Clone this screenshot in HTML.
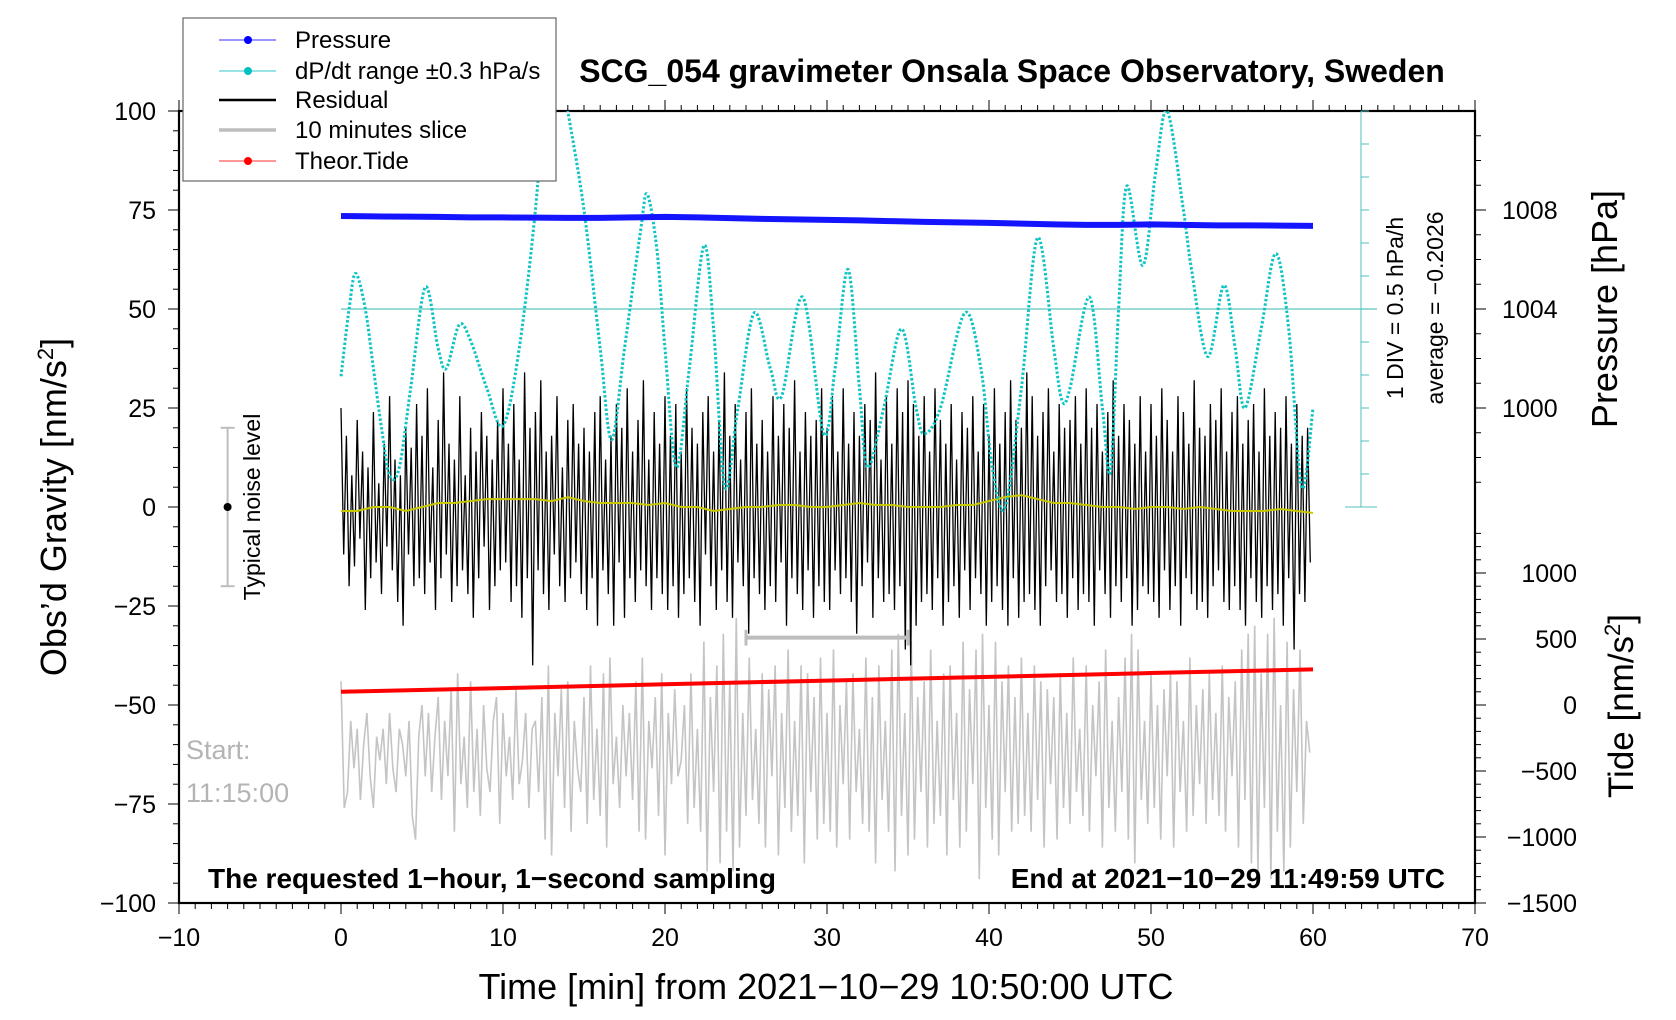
<!DOCTYPE html>
<html><head><meta charset="utf-8"><style>
html,body{margin:0;padding:0;background:#fff}
svg{display:block;font-family:"Liberation Sans",sans-serif}
</style></head><body>
<svg id="chart" width="1676" height="1020" viewBox="0 0 1676 1020" xmlns="http://www.w3.org/2000/svg">
<defs><clipPath id="plotclip"><rect x="179" y="111" width="1296" height="792"/></clipPath></defs>
<rect width="1676" height="1020" fill="#fff"/>
<g id="axes"></g>
<g id="marks" clip-path="url(#plotclip)"></g>
<g id="overlay"></g>
<text x="1012" y="82" text-anchor="middle" font-size="32" font-weight="bold">SCG_054 gravimeter Onsala Space Observatory, Sweden</text>
<text x="826" y="999" text-anchor="middle" font-size="36">Time [min] from 2021−10−29 10:50:00 UTC</text>
<text transform="translate(66,507) rotate(-90)" text-anchor="middle" font-size="36">Obs’d Gravity [nm/s<tspan font-size="22" dy="-13">2</tspan><tspan dy="13">]</tspan></text>
<text transform="translate(1617,309) rotate(-90)" text-anchor="middle" font-size="36">Pressure [hPa]</text>
<text transform="translate(1633,706) rotate(-90)" text-anchor="middle" font-size="35">Tide [nm/s<tspan font-size="22" dy="-13">2</tspan><tspan dy="13">]</tspan></text>
<text transform="translate(1403,308) rotate(-90)" text-anchor="middle" font-size="23">1 DIV = 0.5 hPa/h</text>
<text transform="translate(1443,308) rotate(-90)" text-anchor="middle" font-size="23">average = −0.2026</text>
<text transform="translate(260,507) rotate(-90)" text-anchor="middle" font-size="23">Typical noise level</text>
<text x="186" y="759" font-size="27" fill="#b4b4b4">Start:</text>
<text x="186" y="802" font-size="27" fill="#b4b4b4">11:15:00</text>
<text x="208" y="888" font-size="28" font-weight="bold">The requested 1−hour, 1−second sampling</text>
<text x="1445" y="888" text-anchor="end" font-size="28" font-weight="bold">End at 2021−10−29 11:49:59 UTC</text>
<g>
<rect x="183" y="18" width="373" height="163" fill="#fff" stroke="#666" stroke-width="1.2"/>
<g><line x1="219" y1="40" x2="276" y2="40" stroke="#3030ff" stroke-width="1"/><circle cx="248" cy="40" r="4" fill="#0000ff"/><text x="295" y="48" font-size="24">Pressure</text></g>
<g><line x1="219" y1="71" x2="276" y2="71" stroke="#30c8c8" stroke-width="1"/><circle cx="248" cy="71" r="4" fill="#00c0c0"/><text x="295" y="79" font-size="24">dP/dt range ±0.3 hPa/s</text></g>
<g><line x1="219" y1="100" x2="276" y2="100" stroke="#000" stroke-width="2.5"/><text x="295" y="108" font-size="24">Residual</text></g>
<g><line x1="219" y1="130" x2="276" y2="130" stroke="#bdbdbd" stroke-width="3.5"/><text x="295" y="138" font-size="24">10 minutes slice</text></g>
<g><line x1="219" y1="161" x2="276" y2="161" stroke="#ff3030" stroke-width="1"/><circle cx="248" cy="161" r="4" fill="#ff0000"/><text x="295" y="169" font-size="24">Theor.Tide</text></g>
</g>
</svg>
<script>
// ---- data ----
const residual = [25,-12,18,-20,8,-15,22,-8,14,-26,10,-18,24,-14,6,-22,16,-10,28,-16,12,-24,8,-30,20,-12,15,-20,26,-18,
18,-22,30,-14,10,-26,22,-18,34,-12,16,-24,12,-20,28,-16,8,-22,20,-28,14,-18,24,-10,18,-26,12,-20,22,-16,
30,-14,16,-24,26,-20,12,-28,34,-18,20,-40,24,-16,32,-22,14,-26,18,-12,28,-20,10,-24,22,-18,26,-14,16,-22,
20,-26,14,-18,24,-30,28,-16,12,-22,18,-30,26,-14,20,-28,30,-18,14,-24,22,-16,32,-20,12,-26,24,-18,16,-22,
28,-26,18,-20,26,-28,14,-22,30,-18,20,-24,16,-30,24,-12,28,-20,14,-26,22,-16,34,-24,18,-28,26,-14,12,-20,
24,-32,30,-18,16,-22,22,-26,14,-20,28,-24,18,-14,26,-30,20,-18,32,-22,14,-26,24,-16,18,-28,22,-20,30,-24,
20,-26,28,-16,14,-22,30,-18,16,-24,24,-32,18,-20,26,-14,22,-28,34,-18,12,-24,28,-22,16,-26,30,-20,24,-36,
32,-40,26,-30,18,-24,28,-22,14,-26,30,-18,22,-30,16,-24,26,-20,12,-28,24,-16,20,-26,28,-18,14,-22,26,-30,
18,-24,30,-20,16,-26,24,-30,32,-18,22,-28,20,-24,34,-22,28,-26,18,-30,24,-20,30,-16,14,-24,26,-22,20,-28,
22,-18,28,-26,16,-22,30,-24,20,-30,26,-16,14,-22,24,-28,32,-20,18,-24,26,-18,22,-30,16,-26,28,-20,14,-22,
26,-24,18,-28,30,-16,22,-26,14,-20,28,-30,24,-18,16,-22,32,-26,20,-24,18,-28,26,-20,22,-16,30,-24,14,-26,
24,-20,28,-26,16,-30,22,-18,26,-24,14,-28,30,-20,18,-26,24,-22,20,-30,28,-18,16,-36,26,-22,18,-24,20,-14];
const residualStepMin = 1/6;
const slice = [18,-14,-10,8,-4,6,-12,2,10,-6,-14,4,-2,6,-8,10,-4,-10,6,2,-6,8,-16,-22,4,12,-6,10,-10,4,
14,-12,8,-6,16,-20,20,-8,4,-14,18,-10,6,-16,12,-4,-10,8,14,-18,10,-6,4,-12,16,-8,-2,10,-14,6,
8,-10,14,-22,22,-26,10,-6,16,-14,18,-20,8,-4,-10,14,-18,22,-12,6,-16,20,-24,24,-8,4,-14,12,-6,10,
-12,18,-20,24,-22,8,-4,14,-16,20,-26,10,-8,16,-6,-2,12,-18,20,-14,6,-20,28,-30,14,-10,22,-28,30,-20,
18,-30,34,-24,10,-16,24,-12,6,-18,20,-24,16,-6,22,-26,10,-14,26,-20,8,-16,22,-28,20,-10,14,-22,24,-18,
10,-20,26,-24,12,-8,18,-22,20,-10,6,-18,24,-20,14,-28,22,-12,8,-20,26,-30,30,-16,10,-26,28,-22,14,-10,
18,-24,26,-18,8,-16,20,-26,22,-12,10,-24,28,-20,16,-8,26,-32,30,-14,12,-22,28,-26,18,-10,22,-20,14,-18,
24,-16,10,-20,22,-12,18,-24,16,-8,14,-22,20,-14,10,-18,24,-10,6,-16,22,-20,12,-6,18,-24,26,-14,8,-20,
14,-10,24,-22,30,-28,26,-12,8,-18,20,-14,12,-22,16,-6,20,-24,18,-10,8,-20,24,-16,12,-8,16,-18,20,-12,
10,-16,22,-20,14,-6,18,-24,26,-12,30,-28,32,-30,20,-14,30,-32,34,-20,12,-30,28,-24,16,-10,26,-18,8,0];
const sliceStepMin = 0.2;
const sliceOffset = -62;
const smooth = [-1,-1,0,0,-1,0,1,1,1.5,2,2,2,2,1.5,2.5,1.5,1,1,1,0.5,1,0,0,-1,-0.5,0,0,0.5,0.5,0,0,0.5,1,0.5,0.5,0,0,0,0.5,0.5,1.5,2.5,3,2,1,1,0.5,0,0,-0.5,0,0,-0.5,0,-0.5,-1,-1,-1,-0.5,-1,-1.5];
const pressureT = [0,2,4,6,8,10,12,14,16,18,20,22,24,26,28,30,32,34,36,38,40,42,44,46,48,50,52,54,56,58,60];
const pressureHPa = [1007.76,1007.74,1007.73,1007.72,1007.70,1007.70,1007.69,1007.68,1007.68,1007.70,1007.72,1007.70,1007.67,1007.64,1007.62,1007.60,1007.58,1007.55,1007.52,1007.50,1007.48,1007.45,1007.42,1007.40,1007.40,1007.42,1007.40,1007.38,1007.38,1007.37,1007.36];
const dpdtT = [0,0.5,0.9,1.5,2,2.5,3,3.6,4.3,5.2,6,6.5,7.3,8,9,10,11,12,12.5,13,13.5,14,15,16,16.7,17.5,18.5,18.9,19.5,20,20.7,21.5,22.4,23,23.7,24.5,25.5,26.5,27.2,28.5,29.8,30.5,31.3,32,32.5,33.5,34.6,35.5,36,37,38.5,39.5,40.2,41,42,43,44,44.5,45,46.2,47,47.5,48,48.5,49.5,50.3,51,52,52.5,53.5,54.5,55.2,55.8,56.8,57.7,58.5,59.3,60];
const dpdtV = [33,50,59,50,35,20,8,10,30,55.5,40,35,46,42,30,20.5,40,75,102,115,112,100,75,40,17,40,70,79,65,40,10,35,66,45,5,25,49,35,28,53,18.5,35,60,30,10,25,45,25,18.5,25,49,35,10,0,30,68,40,27,30,53,25,9,50,81,61,85,100,75,60,38,56,40,25,45,64,45,5,25];
const tideT = [0,10,20,30,40,50,60];
const tideNm = [100,128,157,185,213,242,270];
const xTicks = [-10,0,10,20,30,40,50,60,70];
const yTicks = [100,75,50,25,0,-25,-50,-75,-100];
const pTicks = [1008,1004,1000];
const tideTicks = [1000,500,0,-500,-1000,-1500];

// ---- scales ----
const X = t => 341 + t * 16.2;
const Y = g => 507 - g * 3.96;
const PtoG = p => 50 + (p - 1004) * 6.25;
const TtoG = n => -50 + n / 30;
const NS = 'http://www.w3.org/2000/svg';
function mk(tag, parent, attrs) {
  const e = document.createElementNS(NS, tag);
  for (const k in attrs) e.setAttribute(k, attrs[k]);
  parent.appendChild(e);
  return e;
}
const axes = document.getElementById('axes');
const marks = document.getElementById('marks');
const overlay = document.getElementById('overlay');

const frame = mk('rect', axes, {x: X(-10), y: Y(100), width: X(70) - X(-10), height: Y(-100) - Y(100), fill: 'none', stroke: '#000', 'stroke-width': 2.2});



for (let t = -10; t <= 70; t++) {
  const major = t % 10 === 0;
  const L = major ? 11 : 6;
  mk('line', axes, {x1: X(t), x2: X(t), y1: Y(-100), y2: Y(-100) + L, stroke: '#000', 'stroke-width': 1});
  mk('line', axes, {x1: X(t), x2: X(t), y1: Y(100), y2: Y(100) - L, stroke: '#000', 'stroke-width': 1});
}
xTicks.forEach(t => {
  const lb = mk('text', axes, {x: X(t), y: 946, 'text-anchor': 'middle', 'font-size': 25});
  lb.textContent = String(t).replace('-', '−');
  
  
});
for (let g = -100; g <= 100; g += 5) {
  const L = g % 25 === 0 ? 11 : 6;
  mk('line', axes, {x1: X(-10), x2: X(-10) - L, y1: Y(g), y2: Y(g), stroke: '#000', 'stroke-width': 1});
}
yTicks.forEach(g => {
  const lb = mk('text', axes, {x: 156, y: Y(g) + 9, 'text-anchor': 'end', 'font-size': 25});
  lb.textContent = String(g).replace('-', '−');
  
  
});
for (let p = 997; p <= 1011; p++) {
  const yy = Y(PtoG(p));
  if (yy < Y(100)) continue;
  const L = p % 4 === 0 ? 11 : 6;
  mk('line', axes, {x1: X(70), x2: X(70) + L, y1: yy, y2: yy, stroke: '#000', 'stroke-width': 1});
}
pTicks.forEach(p => {
  const lb = mk('text', axes, {x: 1502, y: Y(PtoG(p)) + 9, 'font-size': 25});
  lb.textContent = String(p);
  
  
});
for (let n = -1500; n <= 1300; n += 100) {
  const L = n % 500 === 0 ? 11 : 6;
  mk('line', axes, {x1: X(70), x2: X(70) + L, y1: Y(TtoG(n)), y2: Y(TtoG(n)), stroke: '#000', 'stroke-width': 1});
}
tideTicks.forEach(n => {
  const lb = mk('text', axes, {x: 1577, y: Y(TtoG(n)) + 9, 'text-anchor': 'end', 'font-size': 25});
  lb.textContent = String(n).replace('-', '−');
  
  
});

const dax = mk('line', overlay, {x1: 1361, x2: 1361, y1: Y(100), y2: Y(0), stroke: '#50c0c0', 'stroke-width': 1});


for (let i = 1; i <= 12; i++) {
  const yy = Y(0) - i * (Y(0) - Y(100)) / 12;
  mk('line', overlay, {x1: 1361, x2: 1369, y1: yy, y2: yy, stroke: '#50c0c0', 'stroke-width': 1});
}
mk('line', overlay, {x1: 1345, x2: 1377, y1: Y(0), y2: Y(0), stroke: '#50c0c0', 'stroke-width': 1});

const ref = mk('line', marks, {x1: X(0), x2: 1377, y1: Y(50), y2: Y(50), stroke: '#60c8c0', 'stroke-width': 1.3});



const sp = mk('polyline', marks, {fill: 'none', stroke: '#c4c4c4', 'stroke-width': 1.6,
  points: slice.map((v, i) => X(i * sliceStepMin) + ',' + Y(v + sliceOffset)).join(' ')});



const rp = mk('polyline', marks, {fill: 'none', stroke: '#000', 'stroke-width': 1.3,
  points: residual.map((v, i) => X(i * residualStepMin) + ',' + Y(v)).join(' ')});



const yp = mk('polyline', marks, {fill: 'none', stroke: '#c8c800', 'stroke-width': 2,
  points: smooth.map((v, i) => X(i) + ',' + Y(v)).join(' ')});



function catmull(xs, ys) {
  let d = 'M' + xs[0] + ',' + ys[0];
  for (let i = 0; i < xs.length - 1; i++) {
    const x0 = xs[Math.max(0, i - 1)], y0 = ys[Math.max(0, i - 1)];
    const x1 = xs[i], y1 = ys[i], x2 = xs[i + 1], y2 = ys[i + 1];
    const x3 = xs[Math.min(xs.length - 1, i + 2)], y3 = ys[Math.min(xs.length - 1, i + 2)];
    d += ' C' + (x1 + (x2 - x0) / 6) + ',' + (y1 + (y2 - y0) / 6) + ' ' + (x2 - (x3 - x1) / 6) + ',' + (y2 - (y3 - y1) / 6) + ' ' + x2 + ',' + y2;
  }
  return d;
}
const cp = mk('path', marks, {fill: 'none', stroke: '#10c4c4', 'stroke-width': 3, 'stroke-dasharray': '2.5 2',
  d: catmull(dpdtT.map(X), dpdtV.map(Y))});



const pp = mk('polyline', marks, {fill: 'none', stroke: '#1414ff', 'stroke-width': 6,
  points: pressureT.map((t, i) => X(t) + ',' + Y(PtoG(pressureHPa[i]))).join(' ')});



const tp = mk('polyline', marks, {fill: 'none', stroke: '#ff0000', 'stroke-width': 4,
  points: tideT.map((t, i) => X(t) + ',' + Y(TtoG(tideNm[i]))).join(' ')});



const sb = mk('g', marks, {});


mk('line', sb, {x1: X(25), x2: X(35), y1: Y(-33), y2: Y(-33), stroke: '#bdbdbd', 'stroke-width': 4});
mk('line', sb, {x1: X(25), x2: X(25), y1: Y(-31), y2: Y(-35), stroke: '#bdbdbd', 'stroke-width': 3});
mk('line', sb, {x1: X(35), x2: X(35), y1: Y(-31), y2: Y(-35), stroke: '#bdbdbd', 'stroke-width': 3});

const nb = mk('g', marks, {});


mk('line', nb, {x1: X(-7), x2: X(-7), y1: Y(20), y2: Y(-20), stroke: '#bdbdbd', 'stroke-width': 2});
mk('line', nb, {x1: X(-7) - 7, x2: X(-7) + 7, y1: Y(20), y2: Y(20), stroke: '#bdbdbd', 'stroke-width': 2});
mk('line', nb, {x1: X(-7) - 7, x2: X(-7) + 7, y1: Y(-20), y2: Y(-20), stroke: '#bdbdbd', 'stroke-width': 2});
mk('circle', nb, {cx: X(-7), cy: Y(0), r: 4, fill: '#000'});
</script>
</body></html>
